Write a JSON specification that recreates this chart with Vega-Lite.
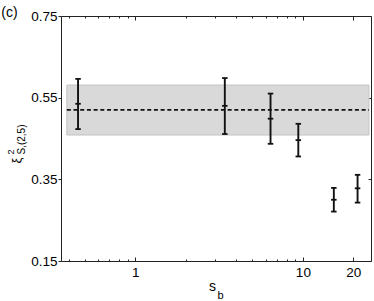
{
  "$schema": "https://vega.github.io/schema/vega-lite/v6.json",
  "width": 310,
  "height": 245,
  "autosize": {"type": "none"},
  "padding": {"left": 61, "top": 16, "right": 3, "bottom": 40},
  "background": "white",
  "config": {
    "view": {"stroke": null},
    "axis": {
      "grid": false,
      "labelFont": "Liberation Sans",
      "titleFont": "Liberation Sans",
      "labelFontSize": 13.5,
      "labelColor": "#000",
      "titleColor": "#000",
      "titleFontWeight": "normal",
      "domainColor": "#222",
      "tickColor": "#222",
      "domainWidth": 1,
      "tickWidth": 1
    }
  },
  "datasets": {
    "ref": [{"x0": 0.39, "x1": 24.8, "lo": 0.4585, "hi": 0.581, "mean": 0.52}],
    "pts": [
      {"s": 0.455, "xi": 0.535, "lo": 0.473, "hi": 0.596},
      {"s": 3.42, "xi": 0.53, "lo": 0.461, "hi": 0.598},
      {"s": 6.41, "xi": 0.4985, "lo": 0.437, "hi": 0.56},
      {"s": 9.39, "xi": 0.446, "lo": 0.406, "hi": 0.486},
      {"s": 15.3, "xi": 0.3, "lo": 0.271, "hi": 0.329},
      {"s": 21.2, "xi": 0.328, "lo": 0.293, "hi": 0.361}
    ]
  },
  "resolve": {"axis": {"x": "independent", "y": "independent"}},
  "layer": [
    {
      "data": {"name": "ref"},
      "mark": {"type": "rect", "fill": "#d9d9d9", "stroke": "#c4c4c4", "strokeWidth": 1},
      "encoding": {
        "x": {
          "field": "x0", "type": "quantitative",
          "scale": {"type": "log", "domain": [0.36, 25.5], "nice": false},
          "axis": {
            "orient": "bottom",
            "values": [0.4, 0.5, 0.6, 0.7, 0.8, 0.9, 1, 2, 3, 4, 5, 6, 7, 8, 9, 10, 20],
            "format": "~g",
            "labelExpr": "indexof([1,10,20], datum.value) >= 0 ? datum.label : ''",
            "labelOverlap": false,
            "labelFlush": false,
            "labelPadding": 8,
            "tickSize": {"condition": {"test": "indexof([1,10,20], datum.value) >= 0", "value": -4}, "value": -2},
            "title": "s",
            "titleFontSize": 14,
            "titleX": 151,
            "titleY": 29,
            "titleAlign": "center",
            "titleBaseline": "alphabetic",
            "titleAngle": 0
          }
        },
        "x2": {"field": "x1"},
        "y": {
          "field": "lo", "type": "quantitative",
          "scale": {"domain": [0.15, 0.75], "nice": false, "zero": false},
          "axis": {
            "orient": "left",
            "values": [0.15, 0.35, 0.55, 0.75],
            "format": ".2f",
            "tickSize": 3,
            "labelPadding": 1,
            "labelFlush": false,
            "labelOverlap": false,
            "title": "ξ",
            "titleFontSize": 13,
            "titleAngle": -90,
            "titleX": -45,
            "titleY": 144,
            "titleAlign": "center",
            "titleBaseline": "middle"
          }
        },
        "y2": {"field": "hi"}
      }
    },
    {
      "data": {"name": "ref"},
      "mark": {"type": "rule", "strokeDash": [4, 2.7], "strokeWidth": 1.7, "color": "#111"},
      "encoding": {
        "x": {
          "field": "x0", "type": "quantitative",
          "scale": {"type": "log", "domain": [0.36, 25.5], "nice": false},
          "axis": {
            "orient": "top",
            "values": [0.4, 0.5, 0.6, 0.7, 0.8, 0.9, 1, 2, 3, 4, 5, 6, 7, 8, 9, 10, 20],
            "labels": false,
            "tickSize": {"condition": {"test": "indexof([1,10,20], datum.value) >= 0", "value": -4}, "value": -2},
            "title": "(c)",
            "titleFontSize": 14,
            "titleX": -52,
            "titleY": -3.5,
            "titleAlign": "center",
            "titleBaseline": "middle",
            "titleAngle": 0
          }
        },
        "x2": {"field": "x1"},
        "y": {
          "field": "mean", "type": "quantitative",
          "scale": {"domain": [0.15, 0.75], "nice": false, "zero": false},
          "axis": {
            "orient": "right",
            "values": [0.15, 0.35, 0.55, 0.75],
            "labels": false,
            "tickSize": -3,
            "title": null
          }
        }
      }
    },
    {
      "data": {"name": "pts"},
      "mark": {"type": "rule", "strokeWidth": 1.9, "color": "#111"},
      "encoding": {
        "x": {
          "field": "s", "type": "quantitative",
          "scale": {"type": "log", "domain": [0.36, 25.5], "nice": false},
          "axis": {
            "orient": "bottom",
            "labels": false, "ticks": false, "domain": false,
            "title": "b",
            "titleFontSize": 11,
            "titleX": 159,
            "titleY": 37,
            "titleAlign": "center",
            "titleBaseline": "alphabetic",
            "titleAngle": 0
          }
        },
        "y": {
          "field": "lo", "type": "quantitative",
          "scale": {"domain": [0.15, 0.75], "nice": false, "zero": false},
          "axis": {
            "orient": "left",
            "labels": false, "ticks": false, "domain": false,
            "title": "S,(2,5)",
            "titleFontSize": 10,
            "titleAngle": -90,
            "titleX": -40,
            "titleY": 138,
            "titleAlign": "left",
            "titleBaseline": "middle"
          }
        },
        "y2": {"field": "hi"}
      }
    },
    {
      "data": {"name": "pts"},
      "mark": {"type": "tick", "orient": "horizontal", "size": 5.5, "thickness": 1.8, "color": "#111", "opacity": 1},
      "encoding": {
        "x": {
          "field": "s", "type": "quantitative",
          "scale": {"type": "log", "domain": [0.36, 25.5], "nice": false},
          "axis": null
        },
        "y": {
          "field": "lo", "type": "quantitative",
          "scale": {"domain": [0.15, 0.75], "nice": false, "zero": false},
          "axis": {
            "orient": "left",
            "labels": false, "ticks": false, "domain": false,
            "title": "2",
            "titleFontSize": 9,
            "titleAngle": -90,
            "titleX": -51,
            "titleY": 138,
            "titleAlign": "left",
            "titleBaseline": "middle"
          }
        }
      }
    },
    {
      "data": {"name": "pts"},
      "mark": {"type": "tick", "orient": "horizontal", "size": 5.5, "thickness": 1.8, "color": "#111", "opacity": 1},
      "encoding": {
        "x": {"field": "s", "type": "quantitative", "scale": {"type": "log", "domain": [0.36, 25.5], "nice": false}, "axis": null},
        "y": {"field": "hi", "type": "quantitative", "scale": {"domain": [0.15, 0.75], "nice": false, "zero": false}, "axis": null}
      }
    },
    {
      "data": {"name": "pts"},
      "mark": {"type": "tick", "orient": "horizontal", "size": 5.5, "thickness": 1.8, "color": "#111", "opacity": 1},
      "encoding": {
        "x": {"field": "s", "type": "quantitative", "scale": {"type": "log", "domain": [0.36, 25.5], "nice": false}, "axis": null},
        "y": {"field": "xi", "type": "quantitative", "scale": {"domain": [0.15, 0.75], "nice": false, "zero": false}, "axis": null}
      }
    }
  ]
}
